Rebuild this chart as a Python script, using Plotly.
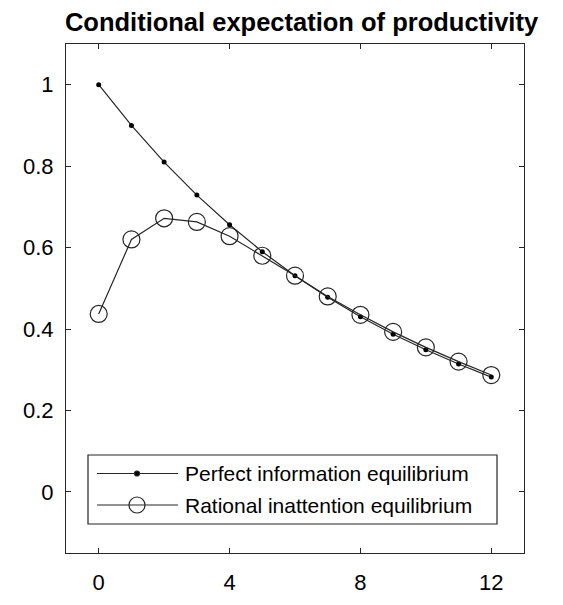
import plotly.graph_objects as go

periods = list(range(13))
perfect_info = [1.0, 0.9, 0.81, 0.729, 0.656, 0.590, 0.531, 0.478, 0.430, 0.387, 0.349, 0.314, 0.282]
rational_inatt = [0.437, 0.620, 0.672, 0.663, 0.628, 0.580, 0.531, 0.480, 0.435, 0.393, 0.355, 0.320, 0.287]

x_ticks = [0, 4, 8, 12]
y_ticks = [0, 0.2, 0.4, 0.6, 0.8, 1]
y_tick_text = ["0", "0.2", "0.4", "0.6", "0.8", "1"]
legend_labels = ["Perfect information equilibrium", "Rational inattention equilibrium"]

FONT = "Liberation Sans, Arial, sans-serif"
INK = "#262626"

# page has an 8px body margin, so the figure is a bit smaller than the window
W, H = 547, 589
ML, MT, MR, MB = 58, 36, 31, 44

fig = go.Figure()

fig.add_trace(go.Scatter(
    x=periods, y=perfect_info, mode="lines+markers",
    line=dict(color=INK, width=1.2),
    marker=dict(symbol="circle", size=5, color="black"),
    name=legend_labels[0], showlegend=False))

fig.add_trace(go.Scatter(
    x=periods, y=rational_inatt, mode="lines+markers",
    line=dict(color=INK, width=1.2),
    marker=dict(symbol="circle-open", size=17, color=INK, line=dict(width=1.2)),
    name=legend_labels[1], showlegend=False))

axis_common = dict(
    showgrid=False, zeroline=False, showline=True, linecolor=INK, linewidth=1.2,
    mirror="ticks", ticks="inside", ticklen=5, tickcolor=INK, tickwidth=1,
    tickfont=dict(family=FONT, size=22, color="black"), automargin=False,
)

fig.update_layout(
    width=W, height=H,
    paper_bgcolor="white", plot_bgcolor="white",
    margin=dict(l=ML, r=MR, t=MT, b=MB, autoexpand=False),
    title=dict(text="<b>Conditional expectation of productivity</b>",
               font=dict(family=FONT, size=25.5, color="black"),
               x=293.5 / W, xanchor="center", y=1 - 14 / H, yanchor="middle"),
    xaxis=dict(range=[-1, 13], tickvals=x_ticks, ticklabelstandoff=9, **axis_common),
    yaxis=dict(range=[-0.15, 1.1], tickvals=y_ticks, ticktext=y_tick_text,
               ticklabelstandoff=7, **axis_common),
)

# hand-drawn MATLAB-style legend box (positions in page pixels)
pw, ph = W - ML - MR, H - MT - MB


def px_x(p):
    return (p - 8 - ML) / pw


def px_y(p):
    return (H - MB + 8 - p) / ph


fig.add_shape(type="rect", xref="paper", yref="paper",
              x0=px_x(88), x1=px_x(497), y0=px_y(524), y1=px_y(455),
              line=dict(color=INK, width=1.2), fillcolor="white", layer="above")

for i, label in enumerate(legend_labels):
    yc = px_y(473.5 + i * 31.5)
    fig.add_shape(type="line", xref="paper", yref="paper",
                  x0=px_x(97), x1=px_x(178), y0=yc, y1=yc,
                  line=dict(color=INK, width=1.2), layer="above")
    r = 2.5 if i == 0 else 8
    fig.add_shape(type="circle", xref="paper", yref="paper",
                  xsizemode="pixel", ysizemode="pixel",
                  xanchor=px_x(137), yanchor=yc,
                  x0=-r, x1=r, y0=-r, y1=r,
                  line=dict(color=INK, width=1.2),
                  fillcolor="black" if i == 0 else "rgba(0,0,0,0)", layer="above")
    fig.add_annotation(xref="paper", yref="paper", x=px_x(183), y=yc,
                       xanchor="left", yanchor="middle", showarrow=False,
                       text=label, font=dict(family=FONT, size=21, color="black"))

fig.write_html("out.html")
